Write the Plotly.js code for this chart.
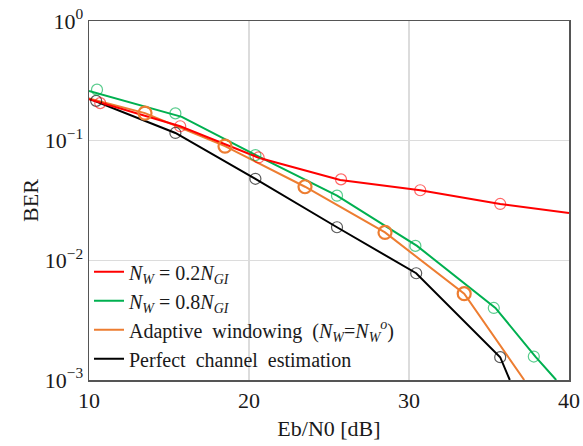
<!DOCTYPE html>
<html>
<head>
<meta charset="utf-8">
<script src="https://cdn.plot.ly/plotly-3.0.1.min.js"></script>
<style>html,body{margin:0;padding:0;background:#fff;}#chart{width:583px;height:446px;}</style>
</head>
<body>
<div id="chart"></div>
<script>
// Series 1: N_W = 0.2 N_GI (red)
const redLineX = [10, 15.7, 20.6, 25.7, 30.7, 35.7, 40];
const redLineY = [0.222, 0.132, 0.072, 0.047, 0.0385, 0.0296, 0.0249];
const redMarkX = [10.7, 15.7, 20.6, 25.75, 30.7, 35.7];
const redMarkY = [0.206, 0.132, 0.0724, 0.0475, 0.0385, 0.0296];

// Series 2: N_W = 0.8 N_GI (green)
const greenLineX = [10, 15.8, 20.4, 25.5, 30.5, 35.4, 37.9, 39.2];
const greenLineY = [0.26, 0.158, 0.076, 0.0347, 0.0132, 0.0040, 0.00157, 0.001];
const greenMarkX = [10.5, 15.4, 20.4, 25.5, 30.4, 35.3, 37.8];
const greenMarkY = [0.267, 0.169, 0.0757, 0.0347, 0.0132, 0.0040, 0.00157];

// Series 3: Adaptive windowing (orange)
const orangeLineX = [10, 13.5, 18.5, 23.5, 28.5, 33.45, 37.2];
const orangeLineY = [0.225, 0.17, 0.09, 0.0412, 0.0171, 0.00526, 0.001];
const orangeMarkX = [13.5, 18.5, 23.5, 28.5, 33.45];
const orangeMarkY = [0.17, 0.09, 0.0412, 0.0171, 0.00526];

// Series 4: Perfect channel estimation (black)
const blackLineX = [10, 15.4, 20.4, 25.5, 30.45, 35.7, 36.3];
const blackLineY = [0.224, 0.116, 0.048, 0.0189, 0.0078, 0.00155, 0.001];
const blackMarkX = [10.45, 15.4, 20.4, 25.5, 30.45, 35.7];
const blackMarkY = [0.215, 0.116, 0.048, 0.0189, 0.0078, 0.00155];

const seriesNames = [
  '<i>N</i><sub><i>W</i></sub> = 0.2<i>N</i><sub><i>GI</i></sub>',
  '<i>N</i><sub><i>W</i></sub> = 0.8<i>N</i><sub><i>GI</i></sub>',
  'Adaptive  windowing  (<i>N</i><sub><i>W</i></sub>=<i>N</i><sub><i>W</i></sub><sup><i>o</i></sup>)',
  'Perfect  channel  estimation'
];

const xTickVals = [10, 20, 30, 40];
const xTickText = ['10', '20', '30', '40'];
const yTickVals = [1, 0.1, 0.01, 0.001];
const yTickText = ['10<sup>0</sup>', '10<sup>\u22121</sup>', '10<sup>\u22122</sup>', '10<sup>\u22123</sup>'];

const RED = '#ff0000', GREEN = '#00b050', ORANGE = '#ed7d31', BLACK = '#000000';

function lineTrace(x, y, color, name) {
  return {x: x, y: y, type: 'scatter', mode: 'lines', name: name,
          line: {color: color, width: 2}, hoverinfo: 'skip'};
}
function markTrace(x, y, color, size, width) {
  return {x: x, y: y, type: 'scatter', mode: 'markers', showlegend: false,
          marker: {symbol: 'circle-open', size: size, color: color, line: {color: color, width: width}},
          hoverinfo: 'skip'};
}

const data = [
  lineTrace(blackLineX, blackLineY, BLACK, seriesNames[3]),
  lineTrace(orangeLineX, orangeLineY, ORANGE, seriesNames[2]),
  lineTrace(greenLineX, greenLineY, GREEN, seriesNames[1]),
  lineTrace(redLineX, redLineY, RED, seriesNames[0]),
  markTrace(blackMarkX, blackMarkY, 'rgba(0,0,0,0.65)', 11, 1.2),
  markTrace(orangeMarkX, orangeMarkY, ORANGE, 13, 2.2),
  markTrace(greenMarkX, greenMarkY, 'rgba(0,176,80,0.65)', 11, 1.2),
  markTrace(redMarkX, redMarkY, 'rgba(255,0,0,0.6)', 11, 1.2)
];
data[0].legendrank = 4; data[1].legendrank = 3; data[2].legendrank = 2; data[3].legendrank = 1;

const FONT = 'Liberation Serif, Times New Roman, serif';

const layout = {
  width: 583, height: 446,
  margin: {l: 89, r: 14, t: 21, b: 66},
  paper_bgcolor: '#ffffff', plot_bgcolor: '#ffffff',
  font: {family: FONT, size: 22, color: '#1a1a1a'},
  showlegend: true,
  legend: {
    x: 0, y: 0.005, xanchor: 'left', yanchor: 'bottom',
    bgcolor: 'rgba(0,0,0,0)', borderwidth: 0,
    font: {family: FONT, size: 20, color: '#1a1a1a'},
    itemwidth: 30, tracegroupgap: 0
  },
  xaxis: {
    range: [10, 40], tickvals: xTickVals, ticktext: xTickText,
    showgrid: true, gridcolor: '#dcdcdc', gridwidth: 1.5,
    showline: true, linecolor: '#555555', linewidth: 1.5, mirror: true,
    ticks: '', zeroline: false,
    tickfont: {family: FONT, size: 22, color: '#1a1a1a'},
    title: {text: 'Eb/N0 [dB]', font: {family: FONT, size: 22, color: '#1a1a1a'}, standoff: 8}
  },
  yaxis: {
    type: 'log', range: [-3, 0], tickvals: yTickVals, ticktext: yTickText,
    showgrid: true, gridcolor: '#dcdcdc', gridwidth: 1.5,
    showline: true, linecolor: '#555555', linewidth: 1.5, mirror: true,
    ticks: '', zeroline: false,
    tickfont: {family: FONT, size: 22, color: '#1a1a1a'},
    title: {text: 'BER', font: {family: FONT, size: 22, color: '#1a1a1a'}, standoff: 0}
  }
};

Plotly.newPlot('chart', data, layout, {staticPlot: true, displayModeBar: false});
</script>
</body>
</html>
